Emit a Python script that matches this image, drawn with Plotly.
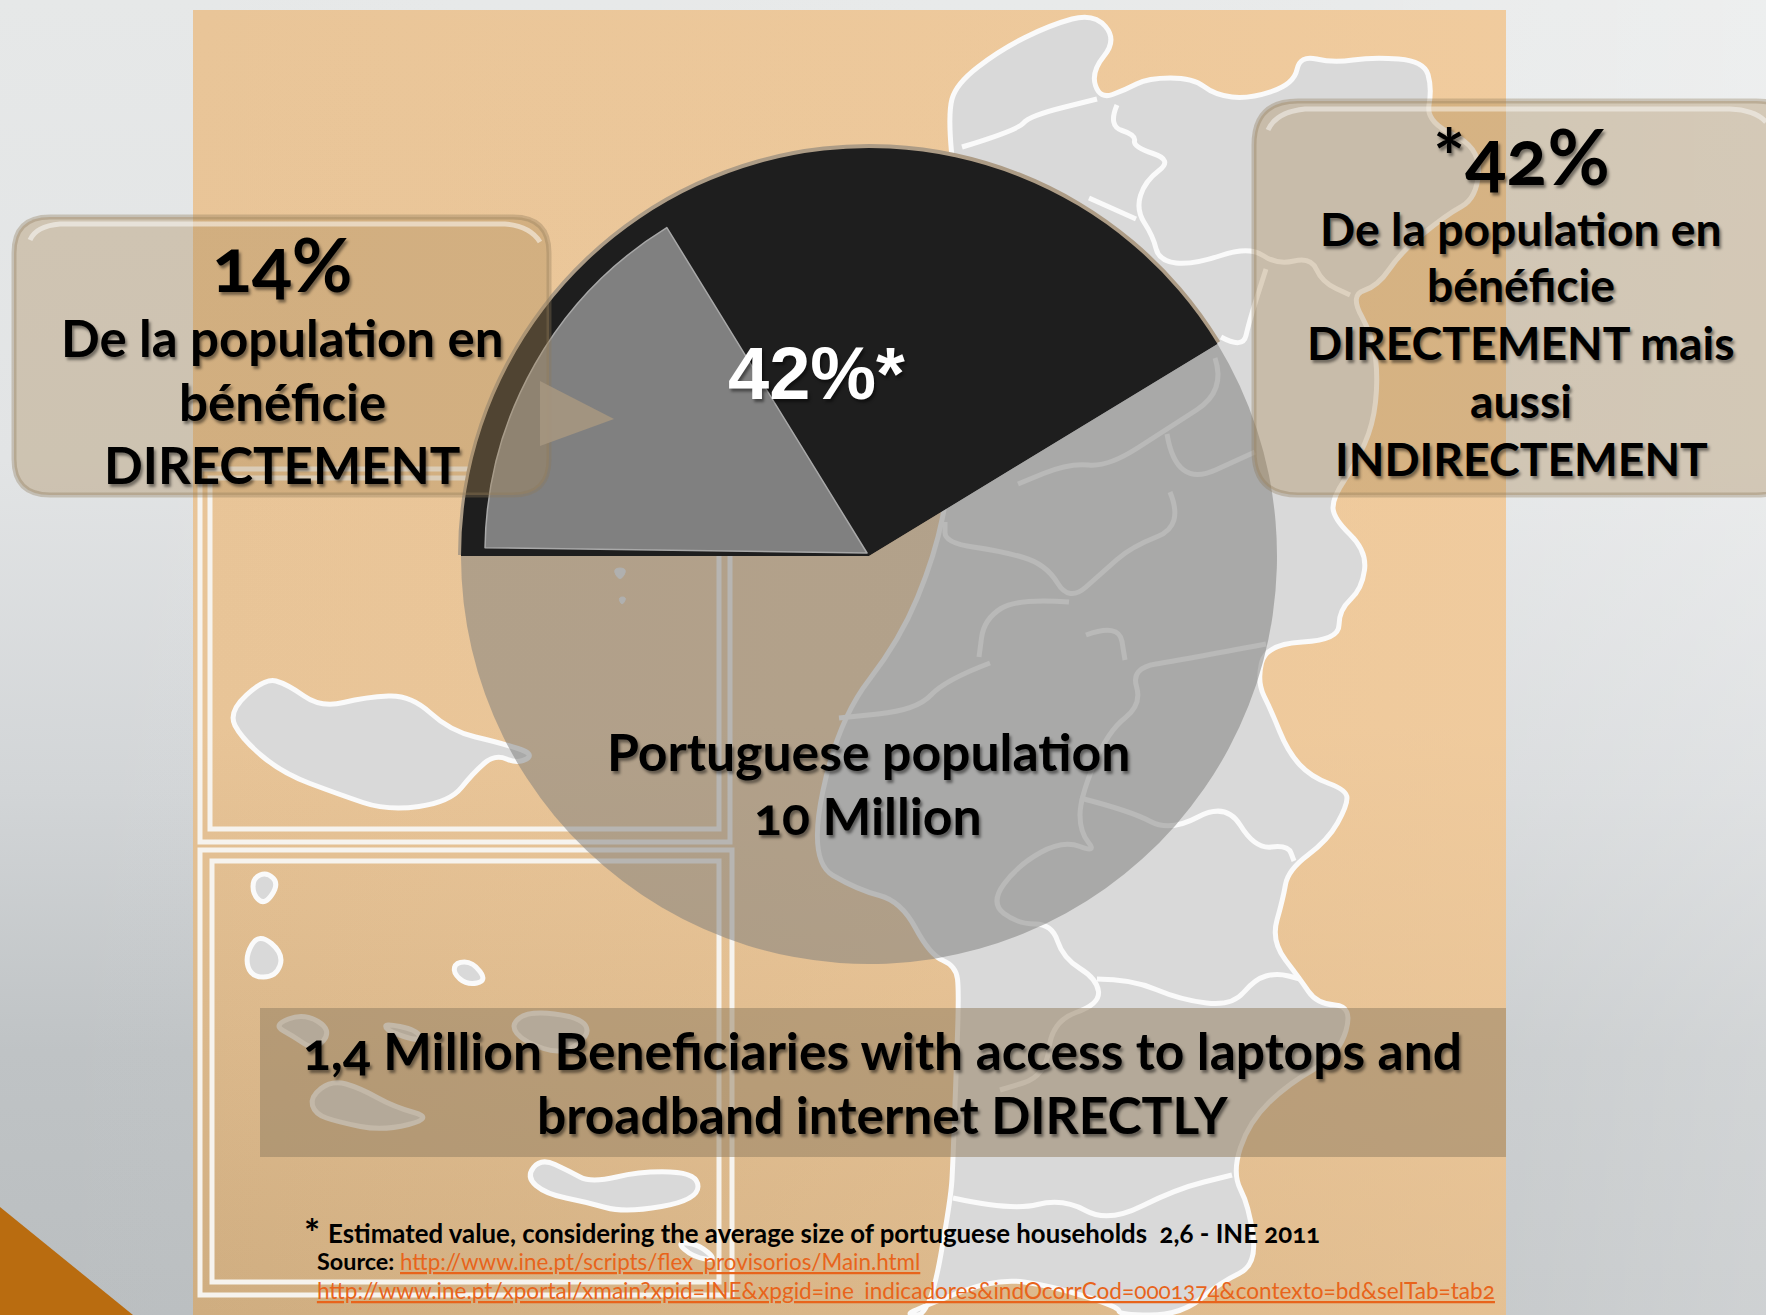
import base64
import plotly.graph_objects as go

W, H = 1766, 1315

# ---- data ----
outer_labels = ["Direct and indirect beneficiaries", "Rest of population"]
outer_values = [41.3, 58.7]  # wedge sweep as drawn in the picture (labelled 42%)
inner_labels = ["Direct beneficiaries", "Other"]
inner_values = [16, 84]  # wedge sweep as drawn in the picture (labelled 14%)

left_box_lines = ["De la population en", "bénéficie", "DIRECTEMENT"]
right_box_lines = ["De la population en", "bénéficie", "DIRECTEMENT mais", "aussi", "INDIRECTEMENT"]
banner_lines = ["1,4 Million Beneficiaries with access to laptops and", "broadband internet DIRECTLY"]
pie_lines = ["Portuguese population", "10 Million"]
note_text = "Estimated value, considering the average size of portuguese households  2,6 - INE 2011"
link_1 = "http://www.ine.pt/scripts/flex_provisorios/Main.html"
link_2 = "http://www.ine.pt/xportal/xmain?xpid=INE&xpgid=ine_indicadores&indOcorrCod=0001374&contexto=bd&selTab=tab2"

# ---- backdrop map outlines (decoration, pixel positions) ----
mainland = [(1094,13),(1117,40),(1091,72),(1100,99),(1125,90),(1148,78),(1193,78),(1215,95),(1249,99),(1294,84),
 (1300,55),(1333,63),(1373,57),(1424,61),(1432,88),(1426,122),(1480,147),(1477,198),(1446,215),(1401,252),(1378,286),
 (1350,295),(1373,337),(1378,379),(1373,425),(1356,463),(1333,497),(1333,518),(1367,551),(1362,589),(1339,610),
 (1339,640),(1266,644),(1257,682),(1271,710),(1288,752),(1311,777),(1347,790),(1347,806),(1328,840),(1288,870),
 (1283,899),(1271,941),(1300,979),(1317,1004),(1353,1006),(1339,1055),(1288,1084),(1249,1122),(1232,1173),(1249,1206),
 (1257,1265),(1221,1282),(1181,1315),(1119,1315),(1119,1307),(1052,1286),(996,1278),(922,1307),(905,1315),(930,1315),
 (951,1198),(953,1160),(956,1076),(959,992),(956,966),(930,955),(901,901),(858,890),(808,861),(838,720),(900,640),
 (935,555),(950,480),(965,340),(955,190),(948,114),(956,84),(1000,50),(1050,25)]
districts = [
 [(962,147),(1018,130),(1029,116),(1097,99)],
 [(1117,105),(1108,126),(1136,135),(1133,147),(1173,160),(1145,181),(1136,210),(1153,236),(1159,261),(1193,265),
  (1249,246),(1277,265),(1311,257),(1322,282),(1350,295)],
 [(1089,198),(1136,219)],
 [(1221,337),(1243,349),(1249,322),(1266,269)],
 [(1215,358),(1226,391),(1167,429),(1108,467),(1069,463),(1018,484)],
 [(1167,434),(1176,488),(1255,452)],
 [(1170,492),(1184,526),(1131,547),(1103,572),(1069,602),(1046,564),(1001,551),(945,543),(945,522)],
 [(1069,602),(1018,598),(984,619),(979,657)],
 [(1086,635),(1119,623),(1125,660)],
 [(1266,644),(1181,660),(1131,668),(1142,705),(1108,731),(1080,798),(1080,832),(1097,853),(1063,840),(1018,865),
  (990,903),(1018,924),(1052,924),(1063,958),(1097,979),(1100,1004),(1052,1021),(1046,1076),(1000,1090)],
 [(1097,979),(1131,979),(1181,1000),(1232,1006),(1255,979),(1277,973),(1300,979)],
 [(1080,798),(1131,811),(1170,832),(1226,802),(1255,849),(1288,845),(1294,861)],
 [(953,1198),(1012,1211),(1063,1198),(1108,1223),(1176,1189),(1232,1175)],
 [(990,663),(945,680),(917,710),(839,718)],
]
islands = [
 [(228,712),(265,678),(287,684),(321,708),(366,697),(411,695),(450,731),(501,743),(535,754),(518,764),(495,754),
  (473,773),(450,802),(388,811),(338,794),(282,773),(242,739)],
 [(253,878),(267,872),(279,884),(265,905),(253,895)],
 [(259,933),(284,954),(276,977),(251,977),(245,956)],
 [(456,962),(473,962),(487,981),(467,985),(453,973)],
 [(273,1025),(304,1013),(332,1030),(315,1051),(293,1036)],
 [(383,1023),(417,1030),(422,1042),(389,1032)],
 [(510,1025),(529,1011),(580,1017),(591,1034),(563,1055),(524,1042)],
 [(310,1097),(332,1080),(360,1088),(394,1107),(434,1118),(383,1131),(338,1122),(315,1114)],
 [(526,1177),(541,1158),(569,1171),(591,1183),(642,1171),(698,1173),(698,1200),(625,1213),(586,1202),(546,1194)],
 [(676,1242),(698,1244),(718,1261),(693,1257)],
]
islets = [[(612,568),(628,568),(620,582)], [(618,597),(627,597),(622,606)]]

# ---- helpers ----
def poly(pts, closed=True):
    s = "M " + " L ".join(f"{x},{y}" for x, y in pts)
    return s + (" Z" if closed else "")

def mid(a, b):
    return ((a[0]+b[0])/2, (a[1]+b[1])/2)

def smooth(pts, closed=True):
    if closed:
        n = len(pts)
        m0 = mid(pts[-1], pts[0])
        s = f"M {m0[0]},{m0[1]}"
        for i in range(n):
            m = mid(pts[i], pts[(i+1) % n])
            s += f" Q {pts[i][0]},{pts[i][1]} {m[0]},{m[1]}"
        return s + " Z"
    s = f"M {pts[0][0]},{pts[0][1]}"
    for i in range(1, len(pts)-1):
        m = mid(pts[i], pts[i+1])
        s += f" Q {pts[i][0]},{pts[i][1]} {m[0]},{m[1]}"
    return s + f" L {pts[-1][0]},{pts[-1][1]}"

def rrect(x0, y0, x1, y1, r):
    return (f"M {x0+r},{y0} L {x1-r},{y0} Q {x1},{y0} {x1},{y0+r} L {x1},{y1-r} Q {x1},{y1} {x1-r},{y1} "
            f"L {x0+r},{y1} Q {x0},{y1} {x0},{y1-r} L {x0},{y0+r} Q {x0},{y0} {x0+r},{y0} Z")

svg = f'''<svg xmlns="http://www.w3.org/2000/svg" width="{W}" height="{H}" viewBox="0 0 {W} {H}">
<defs>
<linearGradient id="v" x1="0" y1="0" x2="0" y2="1">
<stop offset="0" stop-color="#E6E8E8"/><stop offset="0.35" stop-color="#E2E4E5"/><stop offset="0.6" stop-color="#D2D5D7"/>
<stop offset="0.8" stop-color="#BFC3C5"/><stop offset="1" stop-color="#BABEC0"/></linearGradient>
<linearGradient id="h" x1="0" y1="0" x2="1" y2="0">
<stop offset="0" stop-color="#fff" stop-opacity="0"/><stop offset="0.75" stop-color="#fff" stop-opacity="0.12"/>
<stop offset="1" stop-color="#fff" stop-opacity="0.3"/></linearGradient>
<linearGradient id="o" x1="0" y1="0" x2="0" y2="1">
<stop offset="0" stop-color="#E9C598"/><stop offset="0.55" stop-color="#E8C497"/><stop offset="1" stop-color="#CFAD80"/></linearGradient>
<linearGradient id="o2" x1="0" y1="0" x2="1" y2="0">
<stop offset="0" stop-color="#F6D0A2" stop-opacity="0"/><stop offset="1" stop-color="#F6D0A2" stop-opacity="0.55"/></linearGradient>
</defs>
<rect width="{W}" height="{H}" fill="url(#v)"/><rect width="{W}" height="{H}" fill="url(#h)"/>
<rect x="193" y="10" width="1313" height="1305" fill="url(#o)"/><rect x="193" y="10" width="1313" height="1305" fill="url(#o2)"/>
</svg>'''
bg_uri = "data:image/svg+xml;base64," + base64.b64encode(svg.encode()).decode()

shapes = []
def add(path, fill=None, line=None, lw=0, layer="below"):
    shapes.append(dict(type="path", path=path, xref="x", yref="y", layer=layer,
                       fillcolor=fill or "rgba(0,0,0,0)",
                       line=dict(color=line or "rgba(0,0,0,0)", width=lw)))

# orange corner
add(poly([(0,1207),(133,1315),(0,1315)]), fill="#B96C10")
# inset frames
for x0, y0, x1, y1 in [(200,469,730,842),(210,478,719,829),(200,850,732,1295),(212,861,719,1282)]:
    add(poly([(x0,y0),(x1,y0),(x1,y1),(x0,y1)]), line="#F6F3EE", lw=5)
# map
for isl in islands:
    add(smooth(isl), fill="#D9D9D9", line="#FAFAFA", lw=5)
for isl in islets:
    add(smooth(isl), fill="#E8E8E8", line="#E8E8E8", lw=1)
add(smooth(mainland), fill="#D9D9D9", line="#FAFAFA", lw=5)
for d in districts:
    add(smooth(d, False), line="#FAFAFA", lw=5)

# callouts
TAN = "rgba(169,137,87,0.36)"
EDGE = "rgba(140,120,90,0.35)"
add(rrect(14,217,549,495,36), fill=TAN, line=EDGE, lw=5, layer="above")
add(poly([(540,381),(614,419),(540,446)]), fill="rgba(165,150,128,0.9)", layer="above")
add("M 30,240 Q 36,226 60,224 L 505,224 Q 530,226 540,242", line="rgba(255,255,255,0.5)", lw=5, layer="above")
add(rrect(1254,101,1800,495,44), fill=TAN, line=EDGE, lw=5, layer="above")
add("M 1268,130 Q 1276,112 1305,109 L 1730,109 Q 1755,110 1766,122", line="rgba(255,255,255,0.45)", lw=5, layer="above")
# banner
add(poly([(260,1008),(1506,1008),(1506,1157),(260,1157)]), fill="rgba(150,130,100,0.55)", layer="above")

# ---- pie geometry ----
def dom(cx, cy, r):
    return dict(x=[(cx-r)/W, (cx+r)/W], y=[1-(cy+r)/H, 1-(cy-r)/H])

fig = go.Figure()
fig.add_trace(go.Scatter(x=[0, W], y=[0, H], mode="markers", marker=dict(opacity=0), hoverinfo="skip", showlegend=False))
fig.add_trace(go.Pie(labels=outer_labels, values=outer_values, sort=False, direction="clockwise", rotation=-90,
                     domain=dom(869, 555, 411), textinfo="none", hoverinfo="skip", showlegend=False,
                     marker=dict(colors=["#AD9C86", "rgba(0,0,0,0)"], line=dict(width=0))))
fig.add_trace(go.Pie(labels=outer_labels, values=outer_values, sort=False, direction="clockwise", rotation=-90,
                     domain=dom(869, 556, 408), textinfo="none", hoverinfo="label+percent", showlegend=False,
                     marker=dict(colors=["#1E1E1E", "rgba(126,127,125,0.53)"], line=dict(width=0))))
fig.add_trace(go.Pie(labels=inner_labels, values=inner_values, sort=False, direction="clockwise", rotation=-89.2,
                     domain=dom(867, 553, 382), textinfo="none", hoverinfo="label+percent", showlegend=False,
                     marker=dict(colors=["#808080", "rgba(0,0,0,0)"],
                                 line=dict(color=["#A8A8A8", "rgba(0,0,0,0)"], width=[1.5, 0]))))

SHADOW = "2px 3px 3px rgba(0,0,0,0.45)"
ann = []
def text(t, x, y, size, color="#000", family="Lato", anchor="center", weight=700, shadow=SHADOW):
    ann.append(dict(text=t, x=x, y=y, xref="x", yref="y", showarrow=False, xanchor=anchor, yanchor="middle",
                    font=dict(family=family, size=size, color=color, weight=weight, shadow=shadow)))

text("14%", 282, 263, 74)
for t, y in zip(left_box_lines, [337, 401, 464]):
    text(t, 282, y, 51)
text("*42%", 1521, 155, 76)
for t, y in zip(right_box_lines, [228, 284, 342, 400, 458]):
    text(t, 1521, y, 46.3)
text("42%*", 816, 373, 74, color="#FFFFFF", family="Liberation Sans")
for t, y in zip(pie_lines, [751, 815]):
    text(t, 868, y, 51.7)
for t, y in zip(banner_lines, [1050, 1114]):
    text(t, 882, y, 51.5)
text("*", 302, 1232, 38, anchor="left", shadow="none")
text(note_text, 323, 1233, 25.8, anchor="left", shadow="none")
text("Source:", 315, 1261, 23.4, anchor="left", shadow="none")
text(f"<u>{link_1}</u>", 398, 1261, 22.4, color="#E8641B", anchor="left", weight=400, shadow="none")
text(f"<u>{link_2}</u>", 309, 1290, 22.6, color="#E8641B", anchor="left", weight=400, shadow="none")

fig.update_layout(
    width=W, height=H, margin=dict(l=0, r=0, t=0, b=0), autosize=False,
    paper_bgcolor="rgba(0,0,0,0)", plot_bgcolor="rgba(0,0,0,0)", showlegend=False,
    xaxis=dict(range=[0, W], visible=False, fixedrange=True),
    yaxis=dict(range=[H, 0], visible=False, fixedrange=True),
    images=[dict(source=bg_uri, xref="paper", yref="paper", x=0, y=1, sizex=1, sizey=1,
                 sizing="stretch", xanchor="left", yanchor="top", layer="below")],
    shapes=shapes, annotations=ann,
)
fig.write_html("out.html", config=dict(displayModeBar=False),
               post_script="document.body.style.margin='0';document.documentElement.style.overflow='hidden';"
                           "var s=document.createElement('style');"
                           "s.textContent='.annotation-text,.annotation-text *{font-variant-numeric:oldstyle-nums !important;font-feature-settings:\"onum\" 1 !important}';"
                           "document.head.appendChild(s);")
